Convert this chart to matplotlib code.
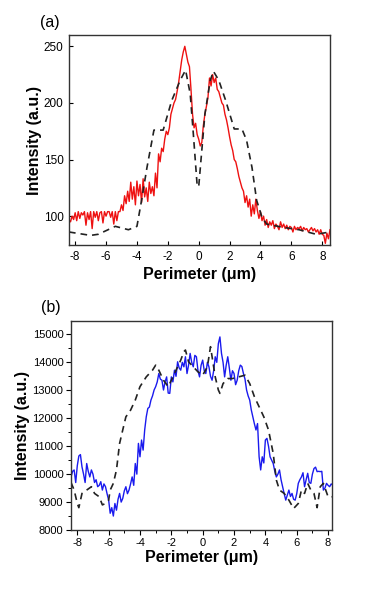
import numpy as np
import matplotlib
matplotlib.use("Agg")
import matplotlib.pyplot as plt
from matplotlib.ticker import MultipleLocator

plt.rcParams['font.family'] = ['Liberation Sans', 'DejaVu Sans']
plt.rcParams['axes.unicode_minus'] = False

# ---------- panel (a) ----------
a_x_start, a_x_step = -8.4, 0.1
a_red = [97, 95, 100, 97, 103, 96, 104, 98, 103, 101,
         104, 92, 103, 97, 104, 89, 104, 99, 104, 96,
         103, 104, 94, 104, 100, 104, 104, 99, 104, 93,
         104, 96, 104, 104, 110, 105, 118, 111, 122, 113,
         130, 115, 126, 110, 131, 118, 128, 112, 133, 117,
         125, 113, 130, 120, 126, 118, 138, 125, 155, 148,
         160, 157, 168, 175, 172, 178, 190, 195, 200, 203,
         210, 218, 228, 238, 245, 250, 243, 236, 232, 212,
         190, 178, 182, 172, 168, 162, 165, 180, 190, 197,
         205, 222, 215, 225, 218, 222, 212, 210, 205, 200,
         198, 190, 185, 178, 170, 163, 158, 150, 148, 142,
         135, 130, 125, 122, 112, 118, 108, 115, 100, 110,
         102, 115, 105, 98, 104, 96, 100, 92, 97, 90,
         95, 92, 96, 89, 93, 91, 88, 95, 90, 93,
         89, 92, 88, 91, 90, 86, 91, 88, 90, 89,
         91, 87, 90, 88, 89, 86, 88, 90, 87, 89,
         86, 88, 84, 88, 84, 83, 76, 85, 80, 88]
a_dash_x = [-8.4, -7.0, -6.5, -5.4, -4.55, -4.0, -3.7, -3.35, -2.9, -2.3, -1.75,
            -1.2, -0.85, -0.55, -0.35, -0.1, 0.0, 0.2, 0.4, 0.75, 0.95, 1.3,
            1.75, 2.3, 2.8, 3.1, 3.45, 3.75, 4.1, 4.4, 5.5, 6.5, 7.6, 8.5]
a_dash_y = [86, 83, 84, 91, 88, 91, 114, 143, 176, 176, 202,
            220, 229, 208, 173, 127, 126, 158, 190, 220, 228, 220,
            202, 177, 177, 167, 143, 114, 99, 93, 90, 88, 84, 86]

# ---------- panel (b) ----------
b_x_start, b_x_step = -8.4, 0.1
b_blue = [9900, 10100, 10150, 9700, 10300, 10650, 10700, 10260, 10000, 9700,
          10380, 10100, 9900, 10150, 10000, 9700, 9800, 9550, 9600, 9730,
          9430, 9650, 9550, 9300, 9070, 8600, 8800, 8500, 8950, 8710,
          9100, 9310, 9000, 9130, 9400, 9550, 9300, 9430, 9650, 9900,
          9600, 10380, 10000, 11100, 10620, 11220, 10860, 11580, 12050, 12350,
          12400, 12650, 12800, 13010, 13130, 13300, 13600, 13400, 13360, 13010,
          13300, 13480, 12900, 12890, 13480, 13300, 13720, 13500, 14020, 13800,
          13720, 14000, 13840, 14200, 13600, 13900, 14320, 14000, 13840, 14250,
          14200, 13700, 13480, 13900, 14080, 13700, 13600, 14000, 13840, 13500,
          13360, 13700, 14200, 14000, 14670, 14910, 14320, 14000, 13480, 13900,
          14200, 13800, 13360, 13700, 13600, 13200, 13360, 13700, 13900, 13850,
          13600, 13400, 13010, 12800, 12650, 12300, 12050, 11800, 11580, 11810,
          10620, 10150, 10620, 10400, 11220, 11280, 11000, 10620, 10500, 10380,
          10100, 9900, 10000, 10150, 9800, 9550, 9300, 9070, 9250, 9430,
          9200, 9310, 9100, 9070, 9300, 9670, 9800, 9900, 10050, 9550,
          9800, 10030, 9700, 9670, 10000, 10200, 10250, 10090, 10100, 10090,
          10100, 9430, 9500, 9670, 9600, 9550, 9650, 9600]
b_dash_x = [-8.4, -8.2, -8.0, -7.9, -7.7, -7.4, -7.1, -6.9, -6.6, -6.4, -6.2, -6.0,
            -5.9, -5.7, -5.5, -5.3, -5.1, -4.9, -4.6, -4.3, -4.0, -3.6, -3.2, -3.0,
            -2.8, -2.5, -2.2, -2.0, -1.7, -1.4, -1.2, -1.1, -0.9, -0.6, -0.3, 0.0,
            0.3, 0.5, 0.6, 0.8, 1.0, 1.1, 1.3, 1.6, 1.9, 2.3, 2.7, 3.0, 3.3, 3.6,
            3.9, 4.2, 4.5, 4.7, 4.9, 5.2, 5.5, 5.8, 6.1, 6.3, 6.5, 6.7, 6.9, 7.1,
            7.3, 7.5, 7.7, 8.0, 8.3]
b_dash_y = [9700, 9430, 8950, 8800, 9310, 9430, 9550, 9310, 9190, 8900, 8950, 9070,
            9430, 9670, 10150, 11100, 11580, 12050, 12290, 12650, 13130, 13480, 13720, 13900,
            13720, 13360, 13130, 13360, 13720, 14080, 14380, 14440, 14020, 13840, 13660, 13540,
            13840, 14560, 14200, 13480, 13010, 12890, 13240, 13420, 13420, 13480, 13540, 13240, 12770, 12410,
            12050, 11580, 10740, 9790, 9430, 9310, 9070, 8770, 8950, 9430, 9310, 9670, 9430, 9310,
            8800, 9550, 9670, 9190, 9190]

x_ticks = [-8, -6, -4, -2, 0, 2, 4, 6, 8]
a_yticks = [100, 150, 200, 250]
b_yticks = [8000, 9000, 10000, 11000, 12000, 13000, 14000, 15000]

fig = plt.figure(figsize=(3.82, 5.95), dpi=100)

# panel (a)
ax1 = fig.add_axes([0.1806, 0.5882, 0.6832, 0.353])
a_x = a_x_start + a_x_step * np.arange(len(a_red))
ax1.plot(a_x, a_red, color='#ee1111', lw=1.0)
ax1.plot(a_dash_x, a_dash_y, color='#222222', lw=1.2, ls=(0, (4, 3)))
ax1.set_xlim(-8.4, 8.5)
ax1.set_ylim(74.5, 260)
ax1.set_xticks(x_ticks)
ax1.set_xticklabels([str(t) for t in x_ticks])
ax1.set_yticks(a_yticks)
ax1.tick_params(direction='in', length=3, width=0.8, labelsize=8.5, pad=4)
ax1.set_xlabel('Perimeter (μm)', fontsize=11.5, fontweight='bold', labelpad=3)
ax1.set_ylabel('Intensity (a.u.)', fontsize=11.5, fontweight='bold', labelpad=1)
for s in ax1.spines.values():
    s.set_linewidth(1.0)
    s.set_color('#333333')
fig.text(0.131, 0.963, '(a)', fontsize=11.5, ha='center', va='center')

# panel (b)
ax2 = fig.add_axes([0.1859, 0.1092, 0.6832, 0.3518])
b_x = b_x_start + b_x_step * np.arange(len(b_blue))
ax2.plot(b_x, b_blue, color='#1a1aee', lw=1.0)
ax2.plot(b_dash_x, b_dash_y, color='#222222', lw=1.2, ls=(0, (4, 3)))
ax2.set_xlim(-8.4, 8.25)
ax2.set_ylim(8000, 15490)
ax2.set_xticks(x_ticks)
ax2.set_xticklabels([str(t) for t in x_ticks])
ax2.set_yticks(b_yticks)
ax2.xaxis.set_minor_locator(MultipleLocator(1))
ax2.yaxis.set_minor_locator(MultipleLocator(500))
ax2.tick_params(which='major', direction='out', length=3.5, width=0.8, labelsize=8, pad=2)
ax2.tick_params(which='minor', direction='out', length=2, width=0.7)
ax2.set_xlabel('Perimeter (μm)', fontsize=11.5, fontweight='bold', labelpad=2)
ax2.set_ylabel('Intensity (a.u.)', fontsize=11.5, fontweight='bold', labelpad=2)
for s in ax2.spines.values():
    s.set_linewidth(1.0)
    s.set_color('#333333')
fig.text(0.134, 0.484, '(b)', fontsize=11.5, ha='center', va='center')

fig.savefig('out.png', dpi=100)
